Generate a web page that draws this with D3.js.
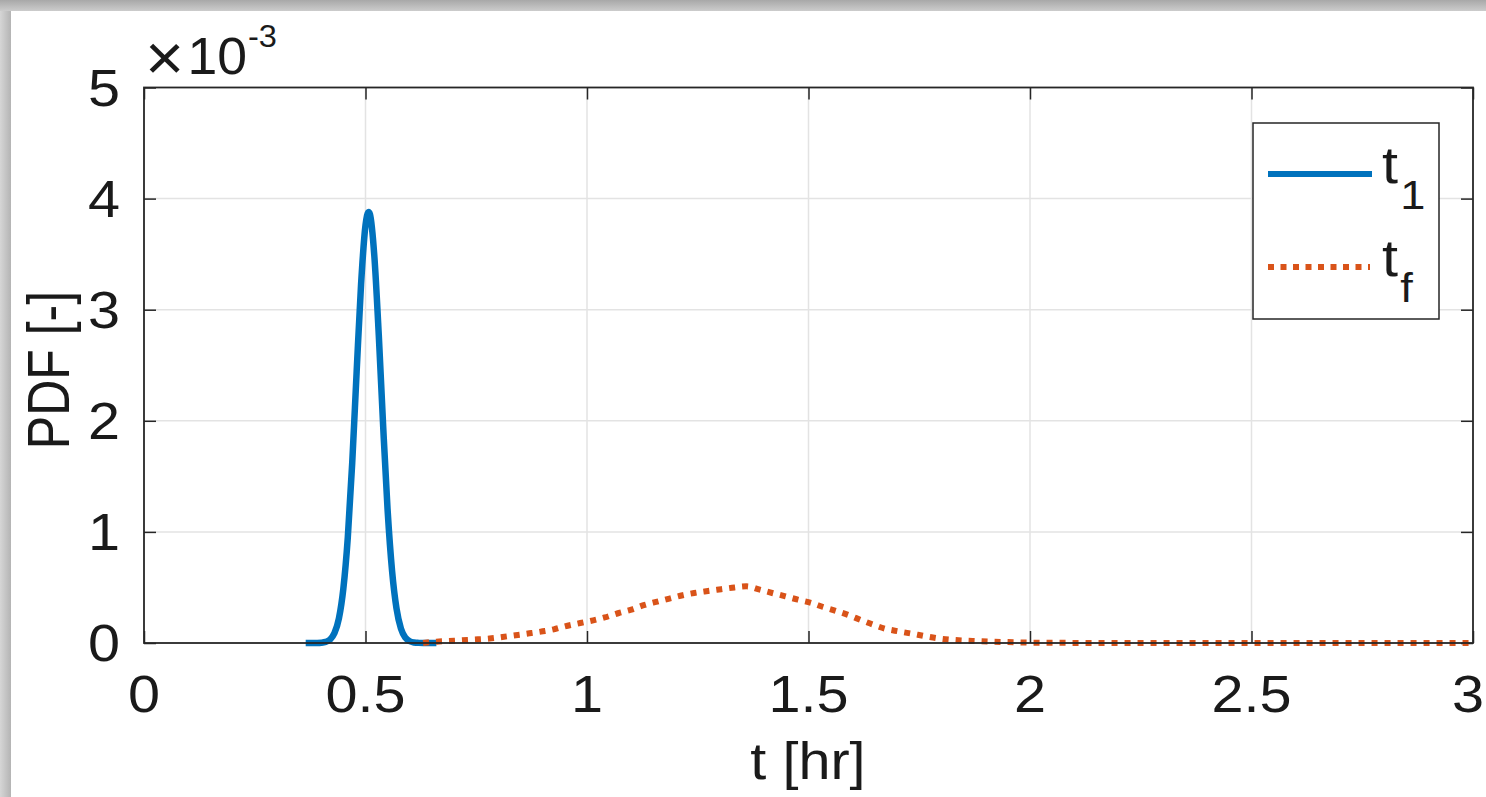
<!DOCTYPE html>
<html>
<head>
<meta charset="utf-8">
<script src="https://cdn.jsdelivr.net/npm/d3@7"></script>
<style>
  html, body { margin: 0; padding: 0; background: #ffffff; }
  svg { display: block; }
  text { font-family: "Liberation Sans", Arial, Helvetica, sans-serif; fill: #1a1a1a; }
</style>
</head>
<body>
<svg id="chart" width="1486" height="797"></svg>
<script>
// Time axis (hours) and PDF values (units of 1e-3)
const t1Time = [0.365, 0.38, 0.39, 0.40, 0.41, 0.42, 0.43, 0.44, 0.45, 0.46, 0.47, 0.48, 0.49, 0.50, 0.507,
                0.51, 0.52, 0.53, 0.54, 0.55, 0.56, 0.57, 0.58, 0.59, 0.60, 0.61, 0.62, 0.63, 0.66];
const t1Pdf  = [0, 0, 0.0006, 0.0026, 0.0096, 0.031, 0.089, 0.222, 0.49, 0.948, 1.62, 2.44, 3.23, 3.76, 3.88,
                3.86, 3.48, 2.77, 1.94, 1.19, 0.648, 0.31, 0.129, 0.048, 0.0156, 0.0045, 0.0011, 0, 0];

const tfTime = [0.63, 0.66, 0.70, 0.74, 0.78, 0.82, 0.87, 0.90, 0.925, 0.95, 0.985, 1.014, 1.04, 1.072, 1.10,
                1.128, 1.156, 1.186, 1.216, 1.242, 1.273, 1.303, 1.333, 1.36, 1.39, 1.418, 1.448, 1.476,
                1.507, 1.533, 1.563, 1.591, 1.62, 1.646, 1.672, 1.703, 1.733, 1.762, 1.792, 1.82, 1.85,
                1.88, 1.91, 1.95, 2.0, 2.1, 2.3, 3.0];
const tfPdf  = [0, 0.012, 0.02, 0.03, 0.04, 0.06, 0.087, 0.105, 0.123, 0.15, 0.18, 0.204, 0.23, 0.27, 0.30,
                0.34, 0.37, 0.40, 0.43, 0.45, 0.468, 0.484, 0.50, 0.51, 0.48, 0.45, 0.42, 0.39,
                0.36, 0.324, 0.288, 0.25, 0.204, 0.165, 0.13, 0.105, 0.084, 0.062, 0.042, 0.03, 0.022,
                0.017, 0.012, 0.008, 0.003, 0.001, 0, 0];

const xTicks = [0, 0.5, 1, 1.5, 2, 2.5, 3];
const xTickLabels = ["0", "0.5", "1", "1.5", "2", "2.5", "3"];
const yTicks = [0, 1, 2, 3, 4, 5];
const yTickLabels = ["0", "1", "2", "3", "4", "5"];

const seriesNames = ["t", "t"];
const seriesSubs = ["1", "f"];
const seriesColors = ["#0072BD", "#D95319"];

const W = 1486, H = 797;
const plot = { left: 144, right: 1473, top: 87.5, bottom: 643 };
const stretch = 1.13;   // glyphs are drawn slightly wide
const axisColor = "#262626";

const svg = d3.select("#chart");

// Frame around the figure
const defs = svg.append("defs");
const gTop = defs.append("linearGradient").attr("id", "gTop").attr("x1", 0).attr("y1", 0).attr("x2", 0).attr("y2", 1);
gTop.append("stop").attr("offset", 0).attr("stop-color", "#a8a8a8");
gTop.append("stop").attr("offset", 1).attr("stop-color", "#cccccc");
const gLeft = defs.append("linearGradient").attr("id", "gLeft").attr("x1", 0).attr("y1", 0).attr("x2", 1).attr("y2", 0);
gLeft.append("stop").attr("offset", 0).attr("stop-color", "#d6d6d6");
gLeft.append("stop").attr("offset", 1).attr("stop-color", "#b4b4b4");
svg.append("rect").attr("x", 0).attr("y", 0).attr("width", W).attr("height", H).attr("fill", "#ffffff");
svg.append("rect").attr("x", 0).attr("y", 0).attr("width", W).attr("height", 11).attr("fill", "url(#gTop)");
svg.append("rect").attr("x", 0).attr("y", 11).attr("width", 11).attr("height", H - 11).attr("fill", "url(#gLeft)");

const x = d3.scaleLinear().domain([0, 3]).range([plot.left, plot.right]);
const y = d3.scaleLinear().domain([0, 5]).range([plot.bottom, plot.top]);

// Grid
const grid = svg.append("g");
grid.selectAll("line.vx").data(xTicks.slice(1, -1)).join("line")
  .attr("x1", d => x(d)).attr("x2", d => x(d)).attr("y1", plot.top).attr("y2", plot.bottom)
  .attr("stroke", "#e3e3e3").attr("stroke-width", 1.5);
grid.selectAll("line.hy").data(yTicks.slice(1, -1)).join("line")
  .attr("y1", d => y(d)).attr("y2", d => y(d)).attr("x1", plot.left).attr("x2", plot.right)
  .attr("stroke", "#e3e3e3").attr("stroke-width", 1.5);

// Axes: ticks point inward on all four sides
const tickLen = 12;
const xBottom = d3.axisBottom(x).tickValues(xTicks).tickSize(-tickLen).tickFormat("");
const xTop = d3.axisTop(x).tickValues(xTicks).tickSize(-tickLen).tickFormat("");
const yLeft = d3.axisLeft(y).tickValues(yTicks).tickSize(-tickLen).tickFormat("");
const yRight = d3.axisRight(y).tickValues(yTicks).tickSize(-tickLen).tickFormat("");
function styleAxis(g) {
  g.select(".domain").remove();
  g.selectAll(".tick line").attr("stroke", axisColor).attr("stroke-width", 1.5);
}
svg.append("g").attr("transform", `translate(0,${plot.bottom})`).call(xBottom).call(styleAxis);
svg.append("g").attr("transform", `translate(0,${plot.top})`).call(xTop).call(styleAxis);
svg.append("g").attr("transform", `translate(${plot.left},0)`).call(yLeft).call(styleAxis);
svg.append("g").attr("transform", `translate(${plot.right},0)`).call(yRight).call(styleAxis);

// Curves
const lineGen = d3.line().x(d => x(d[0])).y(d => y(d[1])).curve(d3.curveMonotoneX);
const t1Data = t1Time.map((t, i) => [t, t1Pdf[i]]);
const tfData = tfTime.map((t, i) => [t, tfPdf[i]]);

svg.append("path").datum(t1Data).attr("d", lineGen)
  .attr("fill", "none").attr("stroke", seriesColors[0]).attr("stroke-width", 6.5)
  .attr("stroke-linejoin", "round");
svg.append("path").datum(tfData).attr("d", lineGen)
  .attr("fill", "none").attr("stroke", seriesColors[1]).attr("stroke-width", 6)
  .attr("stroke-dasharray", "6,7").attr("stroke-linejoin", "round");

// Box
svg.append("rect").attr("x", plot.left).attr("y", plot.top)
  .attr("width", plot.right - plot.left).attr("height", plot.bottom - plot.top)
  .attr("fill", "none").attr("stroke", axisColor).attr("stroke-width", 1.8);

// Stretched text helper
function label(px, py, str, size, anchor, rotate, sx) {
  const g = svg.append("g").attr("transform",
    `translate(${px},${py}) scale(${sx || stretch},1)` + (rotate ? ` rotate(${rotate})` : ""));
  return g.append("text").attr("font-size", size).attr("text-anchor", anchor).text(str);
}

// Tick labels (the last one is kept inside the right edge)
xTicks.forEach((v, i) => label(i === xTicks.length - 1 ? x(v) - 5 : x(v), 712, xTickLabels[i], 51, "middle"));
yTicks.forEach((v, i) => label(120, y(v) + 18, yTickLabels[i], 51, "end"));

// Exponent
const expG = svg.append("g").attr("transform", `translate(145,74) scale(1.05,1)`);
const expT = expG.append("text").attr("font-size", 51);
expT.append("tspan").text("\u00d7").attr("font-size", 64).attr("font-weight", 300).attr("dy", 6);
expT.append("tspan").text("10").attr("dx", 3).attr("dy", -6);
expT.append("tspan").text("-3").attr("font-size", 31).attr("dy", -27).attr("dx", 1);

// Axis titles
label(808, 779, "t [hr]", 51, "middle");
label(69, 370, "PDF [-]", 50, "middle", -90, 1.2);

// Legend
const leg = { x: 1253, y: 123, w: 186, h: 196 };
svg.append("rect").attr("x", leg.x).attr("y", leg.y).attr("width", leg.w).attr("height", leg.h)
  .attr("fill", "#ffffff").attr("stroke", axisColor).attr("stroke-width", 1.5);
const legRows = [174, 267];
svg.append("line").attr("x1", 1268).attr("x2", 1372).attr("y1", legRows[0]).attr("y2", legRows[0])
  .attr("stroke", seriesColors[0]).attr("stroke-width", 6);
svg.append("line").attr("x1", 1268).attr("x2", 1370).attr("y1", legRows[1]).attr("y2", legRows[1])
  .attr("stroke", seriesColors[1]).attr("stroke-width", 6).attr("stroke-dasharray", "6,6.5");
seriesNames.forEach((n, i) => {
  const g = svg.append("g").attr("transform", `translate(1382,${legRows[i] + 9}) scale(${stretch},1)`);
  const t = g.append("text").attr("font-size", 51);
  t.append("tspan").text(n);
  t.append("tspan").text(seriesSubs[i]).attr("font-size", 40).attr("dy", 26).attr("dx", 2);
});
</script>
</body>
</html>
